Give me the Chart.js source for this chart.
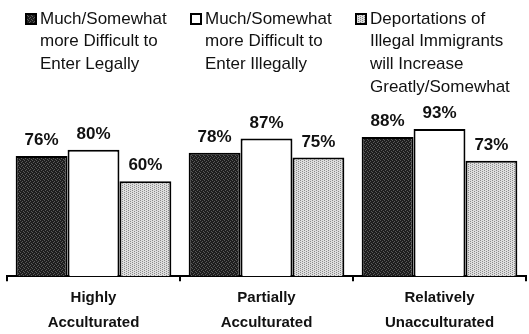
<!DOCTYPE html>
<html>
<head>
<meta charset="utf-8">
<script src="https://cdn.jsdelivr.net/npm/chart.js@4"></script>
<style>
  html, body { margin: 0; padding: 0; background: #fff; }
  #wrap { width: 529px; height: 334px; }
</style>
</head>
<body>
<div id="wrap"><canvas id="c" width="529" height="334"></canvas></div>
<script>
const groups = [['Highly', 'Acculturated'], ['Partially', 'Acculturated'], ['Relatively', 'Unacculturated']];
const legalValues = [76, 78, 88];
const illegalValues = [80, 87, 93];
const deportValues = [60, 75, 73];
const seriesNames = [
  ['Much/Somewhat', 'more Difficult to', 'Enter Legally'],
  ['Much/Somewhat', 'more Difficult to', 'Enter Illegally'],
  ['Deportations of', 'Illegal Immigrants', 'will Increase', 'Greatly/Somewhat']
];

// small dithered fills, like a scanned print
function makePattern(bg, dot, cells) {
  const t = document.createElement('canvas');
  t.width = 4; t.height = 4;
  const g = t.getContext('2d');
  g.fillStyle = bg; g.fillRect(0, 0, 4, 4);
  g.fillStyle = dot;
  cells.forEach(([x, y]) => g.fillRect(x, y, 1, 1));
  return g.createPattern(t, 'repeat');
}
const darkFill = makePattern('#1e1e1e', '#5a5a5a', [[0, 0], [2, 1], [1, 2], [3, 3]]);
const lightFill = makePattern('#dedede', '#8a8a8a', [[0, 0], [0, 2], [2, 1], [2, 3]]);
const fills = [darkFill, '#ffffff', lightFill];

const legendPlugin = {
  id: 'stackedLegend',
  afterDraw(chart) {
    const ctx = chart.ctx;
    const xs = [25, 190, 355];
    ctx.save();
    ctx.font = '17px "Liberation Sans", Arial, sans-serif';
    ctx.textBaseline = 'middle';
    ctx.textAlign = 'left';
    chart.data.datasets.forEach((ds, i) => {
      const x = xs[i];
      ctx.fillStyle = fills[i];
      ctx.fillRect(x, 13, 12, 12);
      ctx.strokeStyle = '#000';
      ctx.lineWidth = 2;
      ctx.strokeRect(x + 1, 14, 10, 10);
      ctx.fillStyle = '#111';
      seriesNames[i].forEach((line, j) => ctx.fillText(line, x + 15, 19 + j * 22.7));
    });
    ctx.restore();
  }
};

const valueLabels = {
  id: 'valueLabels',
  afterDatasetsDraw(chart) {
    const ctx = chart.ctx;
    ctx.save();
    ctx.font = 'bold 17px "Liberation Sans", Arial, sans-serif';
    ctx.fillStyle = '#111';
    ctx.textAlign = 'center';
    ctx.textBaseline = 'bottom';
    chart.data.datasets.forEach((ds, i) => {
      chart.getDatasetMeta(i).data.forEach((bar, j) => {
        ctx.fillText(ds.data[j] + '%', bar.x, bar.y - 7);
      });
    });
    ctx.restore();
  }
};

new Chart(document.getElementById('c'), {
  type: 'bar',
  data: {
    labels: groups,
    datasets: [legalValues, illegalValues, deportValues].map((vals, i) => ({
      label: seriesNames[i].join(' '),
      data: vals,
      backgroundColor: fills[i],
      borderColor: '#000',
      borderWidth: 2,
      barPercentage: 1,
      categoryPercentage: 0.9
    }))
  },
  options: {
    responsive: false,
    animation: false,
    layout: { padding: { top: 118, left: 7, right: 3, bottom: -5 } },
    plugins: { legend: { display: false }, tooltip: { enabled: false } },
    scales: {
      y: { display: false, min: 0, max: 100 },
      x: {
        border: { display: true, color: '#000', width: 2 },
        grid: { display: true, drawOnChartArea: false, drawTicks: true, tickLength: 5, color: '#000', lineWidth: 2 },
        ticks: {
          color: '#111',
          padding: 4,
          font: { family: '"Liberation Sans", Arial, sans-serif', size: 15, weight: 'bold', lineHeight: 1.66 }
        }
      }
    }
  },
  plugins: [legendPlugin, valueLabels]
});
</script>
</body>
</html>
